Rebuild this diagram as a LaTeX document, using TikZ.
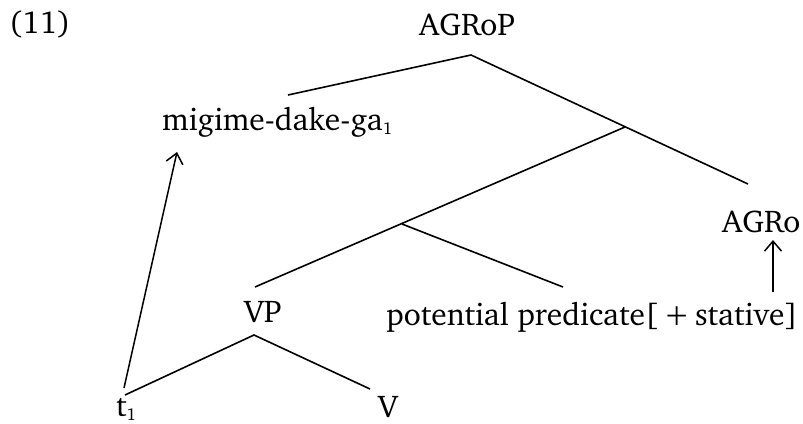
\documentclass[tikz,border=0pt]{standalone}
\usepackage[T1]{fontenc}
\usepackage{charter}
\usetikzlibrary{arrows.meta}
\newcommand{\idx}[1]{\raisebox{-4pt}{\fontsize{17}{17}\selectfont #1}}
\tikzset{
  lbl/.style={inner sep=0pt, anchor=base, font=\fontsize{31.5}{36}\selectfont},
  edge/.style={line width=1.6pt},
  move/.style={line width=1.5pt, -{Straight Barb[length=10pt,width=17pt,line width=1.5pt]}}
}
\begin{document}
\begin{tikzpicture}[x=1pt,y=-1pt]
\useasboundingbox (0,0) rectangle (803,423);
% labels
\node[lbl, anchor=base west] (ex) at (9,33) {(11)};
\node[lbl] (agrop) at (467,35) {AGRoP};
\node[lbl, anchor=base west] (mig) at (162,130) {migime-dake-ga\idx{1}};
\node[lbl, anchor=base west] (agro) at (722,232) {AGRo};
\node[lbl] (vp) at (263,322) {VP};
\node[lbl, anchor=base east] (pred) at (798,325) {potential predicate[\,+\,stative]};
\node[lbl, anchor=base west] (t) at (116,416) {t\idx{1}};
\node[lbl] (v) at (388,417) {V};
% branching points
\coordinate (top) at (471,55);
\coordinate (n1) at (625,127);
\coordinate (n2) at (402,224);
\coordinate (vpb) at (254,335);
\coordinate (migE) at (288,95);
\coordinate (agroE) at (748,184);
\coordinate (vpE) at (255,287);
\coordinate (predE) at (563,287);
\coordinate (tE) at (125,395);
\coordinate (vE) at (370,389);
\coordinate (tA) at (124,388);
\coordinate (migA) at (177,152);
\coordinate (predA) at (773,292);
\coordinate (agroA) at (773,240);
% tree
\draw[edge] (migE) -- (top) -- (agroE);
\draw[edge] (n1) -- (vpE);
\draw[edge] (n2) -- (predE);
\draw[edge] (tE) -- (vpb) -- (vE);
% movement
\draw[move] (tA) -- (migA);
\draw[move] (predA) -- (agroA);
\end{tikzpicture}
\end{document}
